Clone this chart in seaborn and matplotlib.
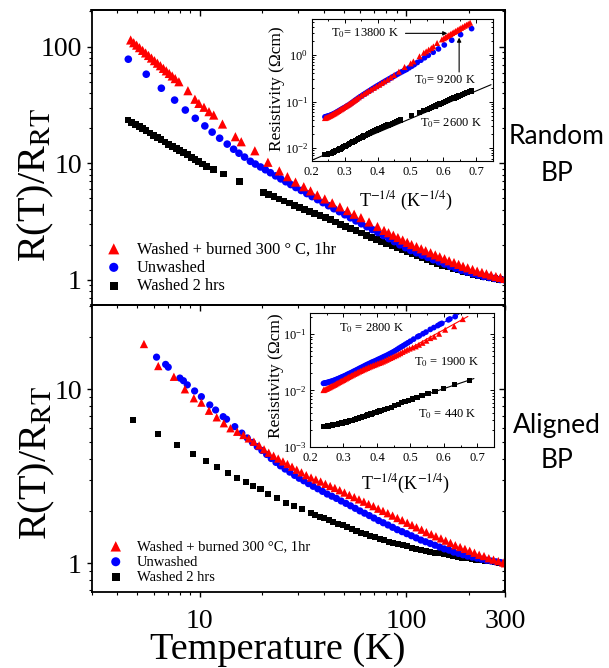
import matplotlib
matplotlib.use("Agg")
import matplotlib.pyplot as plt
import numpy as np
import pandas as pd
import seaborn as sns
from matplotlib.ticker import (LogLocator, NullFormatter, FixedLocator,
                               MultipleLocator)

# ---------------------------------------------------------------- data
# Random BP (top panel): R(T)/R_RT versus T (K)
rand_burn_T = [4.64, 4.80, 4.96, 5.12, 5.30, 5.48, 5.66, 5.85, 6.05, 6.25, 6.46, 6.68,
               6.90, 7.13, 7.37, 7.62, 7.94, 8.78, 9.49, 9.92, 10.5, 11.1, 11.7, 12.9,
               14.9, 15.9, 18.5, 21.4, 24.3, 26.6, 29.1, 31.9, 34.4, 37.1, 40.3, 43.8,
               47.7, 51.9, 55.9, 60.3, 66.0, 72.5, 78.0, 82.0, 86.5, 91.0, 96.0, 101,
               106, 112, 118, 124, 131, 138, 145, 153, 161, 170, 179, 188, 198, 209,
               220, 232, 244, 257, 271, 285, 300]
rand_burn_R = [114, 108, 103, 98.0, 92.9, 88.3, 84.0, 79.8, 75.8, 72.1, 68.6, 65.1,
               62.0, 58.9, 56.0, 53.2, 50.0, 41.9, 35.4, 32.6, 30.2, 27.7, 25.9, 21.7,
               16.9, 15.3, 12.8, 10.2, 8.60, 7.68, 6.90, 6.30, 5.80, 5.35, 4.95, 4.58,
               4.23, 3.93, 3.66, 3.42, 3.14, 2.87, 2.66, 2.54, 2.42, 2.31, 2.20, 2.10,
               2.01, 1.93, 1.85, 1.78, 1.71, 1.64, 1.58, 1.52, 1.46, 1.41, 1.36, 1.31,
               1.27, 1.23, 1.19, 1.16, 1.13, 1.10, 1.07, 1.05, 1.03]

rand_unw_T = [4.52, 5.52, 6.53, 7.57, 8.53, 9.53, 10.6, 11.5, 12.5, 13.6, 14.6, 15.5,
              16.5, 17.6, 18.6, 19.7, 20.8, 22.0, 23.3, 24.7, 26.1, 27.6, 29.2, 31.0,
              33.0, 35.0, 37.2, 39.5, 42.0, 44.6, 47.4, 50.4, 53.6, 57.0, 60.6, 64.4,
              68.5, 72.8, 77.4, 82.3, 87.5, 93.0, 99.0, 105, 112, 119, 127, 135, 144,
              153, 163, 173, 184, 196, 209, 222, 236, 251, 267, 284, 300]
rand_unw_R = [78.0, 58.0, 44.0, 34.8, 28.6, 24.3, 20.9, 18.5, 16.4, 14.6, 13.2, 12.2,
              11.3, 10.4, 9.85, 9.30, 8.80, 8.30, 7.80, 7.35, 6.95, 6.57, 6.20, 5.85,
              5.50, 5.18, 4.88, 4.60, 4.33, 4.08, 3.85, 3.62, 3.41, 3.21, 3.03, 2.86,
              2.70, 2.55, 2.40, 2.26, 2.13, 2.00, 1.89, 1.79, 1.71, 1.63, 1.56, 1.49,
              1.43, 1.37, 1.31, 1.26, 1.21, 1.17, 1.13, 1.10, 1.07, 1.05, 1.03, 1.01, 1.00]

rand_w2_T = [4.50, 4.70, 4.90, 5.10, 5.30, 5.50, 5.75, 6.00, 6.25, 6.50, 6.80, 7.10,
             7.40, 7.70, 8.00, 8.35, 8.70, 9.10, 9.50, 9.90, 10.3, 10.8, 11.7, 13.0,
             15.6, 20.4, 21.6, 22.9, 24.2, 25.6, 27.1, 28.7, 30.4, 32.2, 34.1, 36.1,
             38.2, 40.5, 42.9, 45.4, 48.1, 50.9, 53.9, 57.1, 60.5, 64.0, 67.8, 71.8,
             76.0, 80.5, 85.2, 90.2, 95.5, 101, 107, 113, 120, 127, 134, 142, 150,
             159, 168, 178, 189, 200, 212, 224, 237, 251, 266, 282, 300]
rand_w2_R = [23.5, 22.4, 21.5, 20.6, 19.8, 19.0, 18.2, 17.4, 16.6, 16.0, 15.2, 14.6,
             13.9, 13.4, 12.8, 12.3, 11.8, 11.2, 10.7, 10.3, 9.85, 9.38, 8.90, 8.10,
             6.95, 5.60, 5.38, 5.16, 4.95, 4.75, 4.56, 4.38, 4.20, 4.03, 3.87, 3.72,
             3.57, 3.42, 3.28, 3.14, 3.01, 2.88, 2.76, 2.64, 2.53, 2.42, 2.32, 2.22,
             2.13, 2.04, 1.96, 1.88, 1.81, 1.74, 1.67, 1.61, 1.55, 1.49, 1.44, 1.39,
             1.34, 1.30, 1.26, 1.22, 1.18, 1.15, 1.12, 1.09, 1.07, 1.05, 1.03, 1.01, 1.00]

# Aligned BP (bottom panel)
alig_burn_T = [5.38, 6.31, 7.51, 8.49, 9.38, 10.2, 11.1, 12.1, 13.1, 14.1,
               15.2, 16.3, 17.3, 18.3, 19.4, 20.5, 21.6, 22.8, 24.0, 25.3,
               26.6, 28.0, 29.5, 31.1, 32.8, 34.6, 36.5, 38.5, 40.6, 42.8,
               45.1, 47.6, 50.2, 53.0, 56.0, 59.0, 62.3, 65.7, 69.3, 73.1,
               77.1, 81.3, 85.8, 90.5, 95.5, 101, 106.5, 112, 118.5, 125,
               132, 139, 147, 155, 163.5, 172.5, 182, 192, 202.5, 213.5,
               225, 237.5, 250.5, 264, 278.5, 294, 300]
alig_burn_R = [18.2, 13.6, 11.8, 10.0, 8.88, 8.38, 7.53, 6.90, 6.38, 5.97,
               5.70, 5.46, 5.22, 5.00, 4.76, 4.52, 4.32, 4.15, 4.00, 3.85,
               3.72, 3.59, 3.45, 3.33, 3.21, 3.11, 3.03, 2.95, 2.86, 2.78,
               2.71, 2.63, 2.55, 2.47, 2.40, 2.33, 2.26, 2.19, 2.13, 2.06,
               2.00, 1.94, 1.88, 1.82, 1.77, 1.71, 1.66, 1.61, 1.56, 1.51,
               1.47, 1.43, 1.39, 1.35, 1.31, 1.27, 1.24, 1.21, 1.18, 1.15,
               1.12, 1.10, 1.07, 1.05, 1.03, 1.01, 1.00]

alig_unw_T = [6.19, 6.85, 7.05, 8.03, 8.35, 8.72, 9.46, 10.2, 11.2, 11.95,
              13.0, 13.5, 14.8, 16.0, 17.0, 18.0, 19.0, 20.0, 21.1, 22.2,
              23.4, 24.6, 25.9, 27.3, 28.8, 30.3, 31.9, 33.6, 35.4, 37.3,
              39.3, 41.4, 43.6, 45.9, 48.4, 51.0, 53.7, 56.6, 59.6, 62.8,
              66.2, 69.7, 73.4, 77.3, 81.5, 85.8, 90.4, 95.3, 100.4, 105.8,
              111.5, 117.5, 123.8, 130.4, 137.4, 144.8, 152.6, 160.8, 169.4, 178.5,
              188, 198, 208.6, 219.8, 231.6, 244, 257, 270.8, 285.3, 300]
alig_unw_R = [15.3, 13.9, 13.4, 11.6, 11.2, 10.6, 9.78, 9.07, 8.13, 7.60,
              6.96, 6.73, 6.10, 5.60, 5.25, 4.95, 4.68, 4.45, 4.22, 4.00,
              3.80, 3.63, 3.48, 3.34, 3.20, 3.08, 2.98, 2.87, 2.77, 2.68,
              2.59, 2.50, 2.43, 2.36, 2.28, 2.21, 2.14, 2.07, 2.00, 1.94,
              1.88, 1.82, 1.76, 1.71, 1.66, 1.61, 1.56, 1.52, 1.48, 1.44,
              1.40, 1.36, 1.33, 1.30, 1.27, 1.24, 1.21, 1.19, 1.16, 1.14,
              1.12, 1.10, 1.085, 1.07, 1.055, 1.04, 1.03, 1.02, 1.01, 1.00]

alig_w2_T = [4.78, 6.28, 7.74, 9.25, 10.7, 12.2, 13.7, 15.2, 16.7, 18.2,
             19.7, 21.5, 23.6, 26.1, 28.6, 31.4, 34.4, 36.2, 38.1, 40.1,
             42.2, 44.4, 46.7, 49.2, 51.8, 54.5, 57.4, 60.4, 63.6, 67.0,
             70.5, 74.2, 78.1, 82.2, 86.6, 91.2, 96.0, 101, 106.3, 111.9,
             117.8, 124, 130.5, 137.4, 144.6, 152.2, 160.2, 168.6, 177.5, 186.9,
             196.7, 207, 218, 229.4, 241.5, 254.2, 267.6, 281.7, 300]
alig_w2_R = [6.67, 5.53, 4.79, 4.27, 3.87, 3.57, 3.32, 3.10, 2.92, 2.79,
             2.67, 2.50, 2.36, 2.23, 2.13, 2.04, 1.95, 1.90, 1.85, 1.81,
             1.77, 1.73, 1.69, 1.65, 1.61, 1.57, 1.54, 1.50, 1.47, 1.44,
             1.41, 1.38, 1.36, 1.33, 1.31, 1.29, 1.27, 1.25, 1.23, 1.21,
             1.195, 1.18, 1.165, 1.15, 1.14, 1.125, 1.11, 1.10, 1.09, 1.08,
             1.07, 1.06, 1.05, 1.04, 1.03, 1.025, 1.015, 1.01, 1.00]

# room-temperature resistivity (Ohm cm) of each sample, used by the insets
rand_rho_rt = {"burn": 0.043, "unw": 0.047, "w2": 0.0072}
alig_rho_rt = {"burn": 0.0101, "unw": 0.0133, "w2": 0.00226}

# VRH fit lines in the insets: (T^-1/4 end points, resistivity end points)
rand_fit_w2_x, rand_fit_w2_y = [0.205, 0.745], [0.0057, 0.23]
alig_fit_unw_x, alig_fit_unw_y = [0.48, 0.645], [0.066, 0.225]
alig_fit_burn_x, alig_fit_burn_y = [0.50, 0.672], [0.056, 0.205]
alig_fit_w2_x, alig_fit_w2_y = [0.45, 0.69], [0.0054, 0.0162]

labels_top = ["Washed + burned 300 \u00b0 C, 1hr", "Unwashed", "Washed 2 hrs"]
labels_bot = ["Washed + burned 300 \u00b0C, 1hr", "Unwashed", "Washed 2 hrs"]

# ---------------------------------------------------------------- style
sns.set_theme(style="ticks")
plt.rcParams["font.family"] = ["Liberation Serif", "DejaVu Serif"]
plt.rcParams["mathtext.fontset"] = "stix"
for k in ["axes.edgecolor", "xtick.color", "ytick.color", "axes.labelcolor", "text.color"]:
    plt.rcParams[k] = "black"
plt.rcParams["axes.linewidth"] = 1.3

RED, BLUE, BLACK = "#ff0000", "#0000ff", "#000000"
W, H = 609, 668
fig = plt.figure(figsize=(W / 100, H / 100), dpi=100)


def frame(l, t, r, b):
    return [l / W, 1 - b / H, (r - l) / W, (b - t) / H]


ax_top = fig.add_axes(frame(91.5, 10, 505, 305))
ax_bot = fig.add_axes(frame(91.5, 305, 505, 592))


def pts(ax, x, y, marker, color, s, label=None):
    sns.scatterplot(x=x, y=y, marker=marker, color=color, s=s, linewidth=0,
                    edgecolor="none", ax=ax, label=label)


# main panels
for ax, d, labs, sz in [
    (ax_top, dict(burn=(rand_burn_T, rand_burn_R), unw=(rand_unw_T, rand_unw_R),
                  w2=(rand_w2_T, rand_w2_R)), labels_top, (44, 30, 24)),
    (ax_bot, dict(burn=(alig_burn_T, alig_burn_R), unw=(alig_unw_T, alig_unw_R),
                  w2=(alig_w2_T, alig_w2_R)), labels_bot, (36, 27, 19)),
]:
    pts(ax, *d["w2"], "s", BLACK, sz[2], labs[2])
    pts(ax, *d["unw"], "o", BLUE, sz[1], labs[1])
    pts(ax, *d["burn"], "^", RED, sz[0], labs[0])


def setup_main(ax, ylim, yticks):
    ax.set_xscale("log")
    ax.set_yscale("log")
    ax.set_xlim(3, 300)
    ax.set_ylim(*ylim)
    ax.yaxis.set_major_locator(FixedLocator(yticks))
    ax.set_yticklabels([str(v) for v in yticks])
    ax.yaxis.set_minor_locator(LogLocator(base=10, subs=np.arange(2, 10)))
    ax.yaxis.set_minor_formatter(NullFormatter())
    ax.xaxis.set_major_locator(FixedLocator([10, 100, 300]))
    ax.set_xticklabels(["10", "100", "300"])
    ax.xaxis.set_minor_locator(LogLocator(base=10, subs=np.arange(2, 10)))
    ax.xaxis.set_minor_formatter(NullFormatter())
    ax.tick_params(which="major", direction="out", length=3.5, width=1.0,
                   labelsize=20, pad=3.5)
    ax.tick_params(which="minor", direction="out", length=2.0, width=0.8)
    ax.tick_params(axis="x", which="major", pad=9)
    # inward ticks on the top and right frame
    sx = ax.secondary_xaxis("top")
    sx.xaxis.set_major_locator(FixedLocator([10, 100]))
    sx.xaxis.set_minor_locator(LogLocator(base=10, subs=np.arange(2, 10)))
    sx.xaxis.set_major_formatter(NullFormatter())
    sx.xaxis.set_minor_formatter(NullFormatter())
    sx.tick_params(which="major", direction="in", length=4, width=1.0)
    sx.tick_params(which="minor", direction="in", length=2.5, width=0.8)
    sy = ax.secondary_yaxis("right")
    sy.yaxis.set_major_locator(FixedLocator(yticks))
    sy.yaxis.set_minor_locator(LogLocator(base=10, subs=np.arange(2, 10)))
    sy.yaxis.set_major_formatter(NullFormatter())
    sy.yaxis.set_minor_formatter(NullFormatter())
    sy.tick_params(which="major", direction="in", length=4, width=1.0)
    sy.tick_params(which="minor", direction="in", length=2.5, width=0.8)
    ax.set_xlabel("")
    ax.set_ylabel(r"R(T)/R$_{\mathrm{RT}}$", fontsize=29)
    ax.yaxis.label.set_va("center")


setup_main(ax_top, (0.61, 206), [1, 10, 100])
setup_main(ax_bot, (0.684, 30.5), [1, 10])
ax_top.tick_params(axis="x", labelbottom=False)
ax_top.yaxis.set_label_coords(-0.135, 0.407)
ax_bot.yaxis.set_label_coords(-0.132, 0.449)
ax_bot.set_xlabel("Temperature (K)", fontsize=27.5)
ax_bot.xaxis.set_label_coords(0.45, -0.142)
ax_bot.xaxis.label.set_va("top")

ax_top.legend(loc="lower left", bbox_to_anchor=(0.034, 0.037), frameon=False,
              fontsize=11.8, handlelength=1.0, handletextpad=0.9, labelspacing=0.15,
              borderpad=0, borderaxespad=0, markerscale=1.2,
              handles=ax_top.get_legend_handles_labels()[0][::-1])
ax_bot.legend(loc="lower left", bbox_to_anchor=(0.041, 0.028), frameon=False,
              fontsize=10.5, handlelength=1.0, handletextpad=0.95, labelspacing=0.15,
              borderpad=0, borderaxespad=0, markerscale=1.25,
              handles=ax_bot.get_legend_handles_labels()[0][::-1])

# ---------------------------------------------------------------- insets
in_top = fig.add_axes(frame(311.7, 19.3, 492.7, 160.7))
in_bot = fig.add_axes(frame(310, 313.3, 494, 446.7))


def inset_pts(ax, T, R, rho, marker, color, s):
    x = np.asarray(T, float) ** -0.25
    y = rho * np.asarray(R, float)
    pts(ax, x, y, marker, color, s)


inset_pts(in_top, rand_w2_T, rand_w2_R, rand_rho_rt["w2"], "s", BLACK, 14)
inset_pts(in_top, rand_unw_T, rand_unw_R, rand_rho_rt["unw"], "o", BLUE, 17)
inset_pts(in_top, rand_burn_T, rand_burn_R, rand_rho_rt["burn"], "^", RED, 19)
sns.lineplot(x=rand_fit_w2_x, y=rand_fit_w2_y, ax=in_top, color=BLACK, lw=0.8,
             sort=False, estimator=None)

inset_pts(in_bot, alig_w2_T, alig_w2_R, alig_rho_rt["w2"], "s", BLACK, 14)
inset_pts(in_bot, alig_unw_T, alig_unw_R, alig_rho_rt["unw"], "o", BLUE, 17)
inset_pts(in_bot, alig_burn_T, alig_burn_R, alig_rho_rt["burn"], "^", RED, 19)
for fx, fy, c in [(alig_fit_unw_x, alig_fit_unw_y, BLUE),
                  (alig_fit_burn_x, alig_fit_burn_y, RED),
                  (alig_fit_w2_x, alig_fit_w2_y, BLACK)]:
    sns.lineplot(x=fx, y=fy, ax=in_bot, color=c, lw=0.8, sort=False, estimator=None)


def setup_inset(ax, ylim, xlab, xlab_xy, ylab_xy):
    ax.set_yscale("log")
    ax.set_xlim(0.2, 0.75)
    ax.set_ylim(*ylim)
    ax.set_facecolor("white")
    ax.xaxis.set_major_locator(FixedLocator([0.2, 0.3, 0.4, 0.5, 0.6, 0.7]))
    ax.set_xticklabels(["0.2", "0.3", "0.4", "0.5", "0.6", "0.7"])
    ax.xaxis.set_minor_locator(MultipleLocator(0.05))
    ax.yaxis.set_major_locator(LogLocator(base=10))
    ax.yaxis.set_minor_locator(LogLocator(base=10, subs=np.arange(2, 10)))
    ax.yaxis.set_minor_formatter(NullFormatter())
    ax.tick_params(which="both", direction="in", top=True, right=True,
                   labelsize=9, pad=2.5, width=0.7)
    ax.tick_params(axis="x", which="major", pad=3.5)
    ax.tick_params(which="major", length=3)
    ax.tick_params(which="minor", length=1.5)
    for s in ax.spines.values():
        s.set_linewidth(0.8)
    ax.set_xlabel(xlab, fontsize=13)
    ax.xaxis.set_label_coords(*xlab_xy)
    ax.xaxis.label.set_va("center")
    ax.set_ylabel("Resistivity (\u03a9cm)", fontsize=12.5)
    ax.yaxis.set_label_coords(*ylab_xy)
    ax.yaxis.label.set_va("center")


setup_inset(in_top, (0.0054, 5.8), r"T$^{-1/4}$ (K$^{-1/4}$)", (0.52, -0.285), (-0.194, 0.51))
setup_inset(in_bot, (0.001, 0.233), r"T$^{-1/4}$(K$^{-1/4}$)", (0.52, -0.28), (-0.185, 0.53))

# annotations in insets
in_top.text(0.26, 2.9, r"T$_0$= 13800 K", fontsize=9, va="center", ha="left")
in_top.annotate("", xy=(0.612, 2.9), xytext=(0.485, 2.9),
                arrowprops=dict(arrowstyle="-|>", lw=0.8, color="black",
                                mutation_scale=6, shrinkA=0, shrinkB=0))
in_top.text(0.51, 0.29, r"T$_0$= 9200 K", fontsize=9, va="center", ha="left")
in_top.annotate("", xy=(0.648, 2.35), xytext=(0.648, 0.43),
                arrowprops=dict(arrowstyle="-|>", lw=0.8, color="black",
                                mutation_scale=6, shrinkA=0, shrinkB=0))
in_top.text(0.53, 0.034, r"T$_0$= 2600 K", fontsize=9, va="center", ha="left")

in_bot.text(0.288, 0.126, r"T$_0$ = 2800 K", fontsize=9, va="center", ha="left")
in_bot.text(0.51, 0.0323, r"T$_0$ = 1900 K", fontsize=9, va="center", ha="left")
in_bot.text(0.524, 0.0038, r"T$_0$ = 440 K", fontsize=9, va="center", ha="left")

# side labels
side = dict(family=["Lato", "DejaVu Sans"], fontsize=19, ha="center", va="center")
fig.text(556.7 / W, 1 - 136.7 / H, "Random", **side)
fig.text(556.7 / W, 1 - 173.3 / H, "BP", **side)
fig.text(556.7 / W, 1 - 425 / H, "Aligned", **side)
fig.text(556.7 / W, 1 - 460 / H, "BP", **side)

fig.savefig("out.png", dpi=100)
